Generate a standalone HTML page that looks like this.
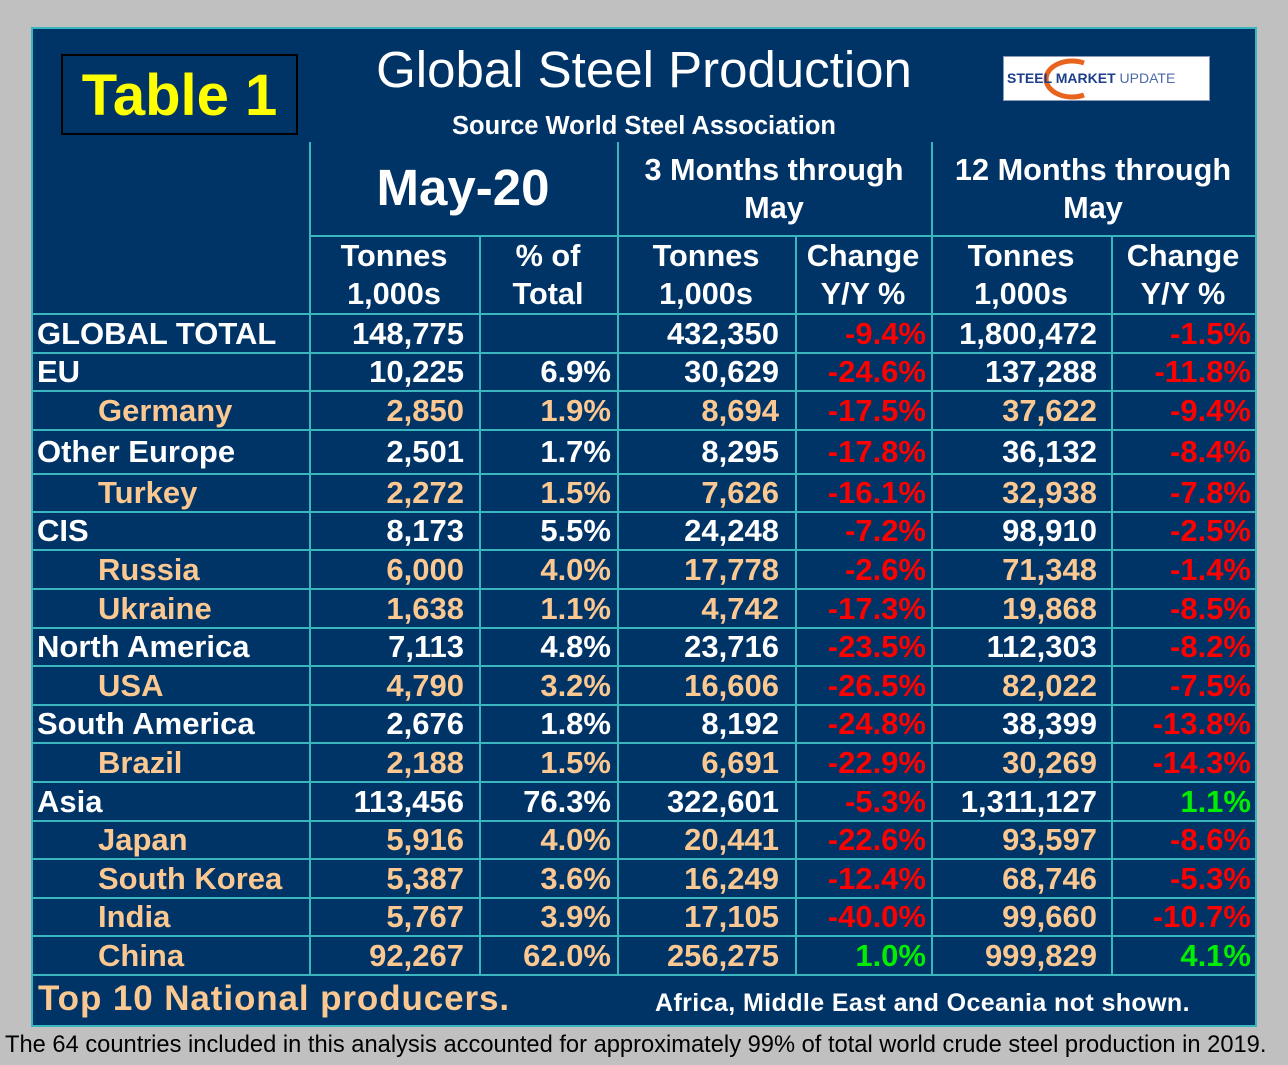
<!DOCTYPE html>
<html><head><meta charset="utf-8"><style>
body{margin:0;width:1288px;height:1065px;background:#c0c0c0;position:relative;overflow:hidden;font-family:"Liberation Sans",Arial,sans-serif}
#panel{position:absolute;left:31px;top:27px;width:1222px;height:996px;background:#003366;border:2px solid #3ab7be}
.a{position:absolute;white-space:nowrap}
.ln{position:absolute;background:#3ab7be}
.b{font-weight:bold;font-size:31px;letter-spacing:0px}
.hd{font-weight:bold;font-size:30.7px;color:#fff;text-align:center;line-height:38px}
</style></head><body>
<div id="panel"></div>
<div class="a" style="left:61px;top:54px;width:233px;height:77px;border:2px solid #000;color:#ffff00;font-weight:bold;font-size:58px;text-align:center;line-height:80px">Table 1</div>
<div class="a" style="left:294px;top:40px;width:700px;text-align:center;color:#fff;font-size:51px">Global Steel Production</div>
<div class="a" style="left:344px;top:112px;width:600px;text-align:center;color:#fff;font-size:25.5px;font-weight:bold">Source World Steel Association</div>
<div class="a" style="left:1003px;top:56px;width:205px;height:43px;background:#fff;border:1px solid #8899bb">
<svg width="205" height="43" style="position:absolute;left:0;top:0"><path d="M72 6 A26 18 0 1 0 72 38" fill="none" stroke="#e8641e" stroke-width="5" transform="translate(8,0)"/></svg>
<span class="a" style="left:3px;top:13px;font-size:14px;font-weight:bold;color:#1d3f8a">STEEL <span style="color:#1d3f8a">MARKET</span> <span style="font-weight:normal;color:#4c6aa8">UPDATE</span></span></div>
<div class="a" style="left:309px;top:158px;width:308px;text-align:center;color:#fff;font-weight:bold;font-size:51px">May-20</div>
<div class="a hd" style="left:617px;top:151px;width:314px">3 Months through<br>May</div>
<div class="a hd" style="left:931px;top:151px;width:324px">12 Months through<br>May</div>
<div class="a hd" style="left:309px;top:237px;width:170px">Tonnes<br>1,000s</div>
<div class="a hd" style="left:479px;top:237px;width:138px">% of<br>Total</div>
<div class="a hd" style="left:617px;top:237px;width:178px">Tonnes<br>1,000s</div>
<div class="a hd" style="left:795px;top:237px;width:136px">Change<br>Y/Y %</div>
<div class="a hd" style="left:931px;top:237px;width:180px">Tonnes<br>1,000s</div>
<div class="a hd" style="left:1111px;top:237px;width:144px">Change<br>Y/Y %</div>
<div class="a" style="left:38px;top:979px;color:#fac890;font-weight:bold;font-size:35px;letter-spacing:0.9px">Top 10 National producers.</div>
<div class="a" style="left:655px;top:989px;color:#fff;font-weight:bold;font-size:25px;letter-spacing:0.4px">Africa, Middle East and Oceania not shown.</div>
<div class="a" style="left:5px;top:1032px;color:#000;font-size:23.7px;letter-spacing:0px">The 64 countries included in this analysis accounted for approximately 99% of total world crude steel production in 2019.</div>
<div id="tbl"></div>
<script>
const names=["GLOBAL TOTAL","EU","Germany","Other Europe","Turkey","CIS","Russia","Ukraine","North America","USA","South America","Brazil","Asia","Japan","South Korea","India","China"];
const isCountry=[0,0,1,0,1,0,1,1,0,1,0,1,0,1,1,1,1];
const mayTonnes=["148,775","10,225","2,850","2,501","2,272","8,173","6,000","1,638","7,113","4,790","2,676","2,188","113,456","5,916","5,387","5,767","92,267"];
const pctTotal=["","6.9%","1.9%","1.7%","1.5%","5.5%","4.0%","1.1%","4.8%","3.2%","1.8%","1.5%","76.3%","4.0%","3.6%","3.9%","62.0%"];
const tonnes3m=["432,350","30,629","8,694","8,295","7,626","24,248","17,778","4,742","23,716","16,606","8,192","6,691","322,601","20,441","16,249","17,105","256,275"];
const change3m=[-9.4,-24.6,-17.5,-17.8,-16.1,-7.2,-2.6,-17.3,-23.5,-26.5,-24.8,-22.9,-5.3,-22.6,-12.4,-40.0,1.0];
const tonnes12m=["1,800,472","137,288","37,622","36,132","32,938","98,910","71,348","19,868","112,303","82,022","38,399","30,269","1,311,127","93,597","68,746","99,660","999,829"];
const change12m=[-1.5,-11.8,-9.4,-8.4,-7.8,-2.5,-1.4,-8.5,-8.2,-7.5,-13.8,-14.3,1.1,-8.6,-5.3,-10.7,4.1];
const rowTops=[313,352,390,429,473,511,549,588,627,665,704,742,781,820,858,897,935,974];
const colX=[31,309,479,617,795,931,1111,1255];
const T=document.getElementById('tbl');
function line(x,y,w,h,nm){const d=document.createElement('div');d.className='ln';


d.style.cssText=`left:${x}px;top:${y}px;width:${w}px;height:${h}px`;T.appendChild(d);}
line(309,235,946,2,'header-divider');
for(const x of [309,617,931]) line(x,142,2,832,'column-divider');
for(const x of [479,795,1111]) line(x,235,2,739,'column-divider');
for(const y of rowTops) line(31,y,1224,2,'row-divider');
function cell(txt,x,right,top,h,color,nm){const d=document.createElement('div');d.className='a b';


d.textContent=txt;d.style.color=color;d.style.top=(top+2)+'px';d.style.lineHeight=(h-2)+'px';
if(right){d.style.right=(1288-x)+'px';}else{d.style.left=x+'px';}T.appendChild(d);}
const fmt=v=>v.toFixed(1)+'%';
names.forEach((n,i)=>{const top=rowTops[i],h=rowTops[i+1]-top;const c=isCountry[i]?'#fac890':'#fff';
cell(n,isCountry[i]?98:37,false,top,h,c,'row-label');
cell(mayTonnes[i],colX[2]-15,true,top,h,c,'may-tonnes');
cell(pctTotal[i],colX[3]-6,true,top,h,c,'pct-of-total');
cell(tonnes3m[i],colX[4]-16,true,top,h,c,'tonnes-3m');
cell(fmt(change3m[i]),colX[5]-5,true,top,h,change3m[i]<0?'#ff0000':'#00ee00','change-3m');
cell(tonnes12m[i],colX[6]-14,true,top,h,c,'tonnes-12m');
cell(fmt(change12m[i]),colX[7]-4,true,top,h,change12m[i]<0?'#ff0000':'#00ee00','change-12m');
});
</script>
</body></html>
